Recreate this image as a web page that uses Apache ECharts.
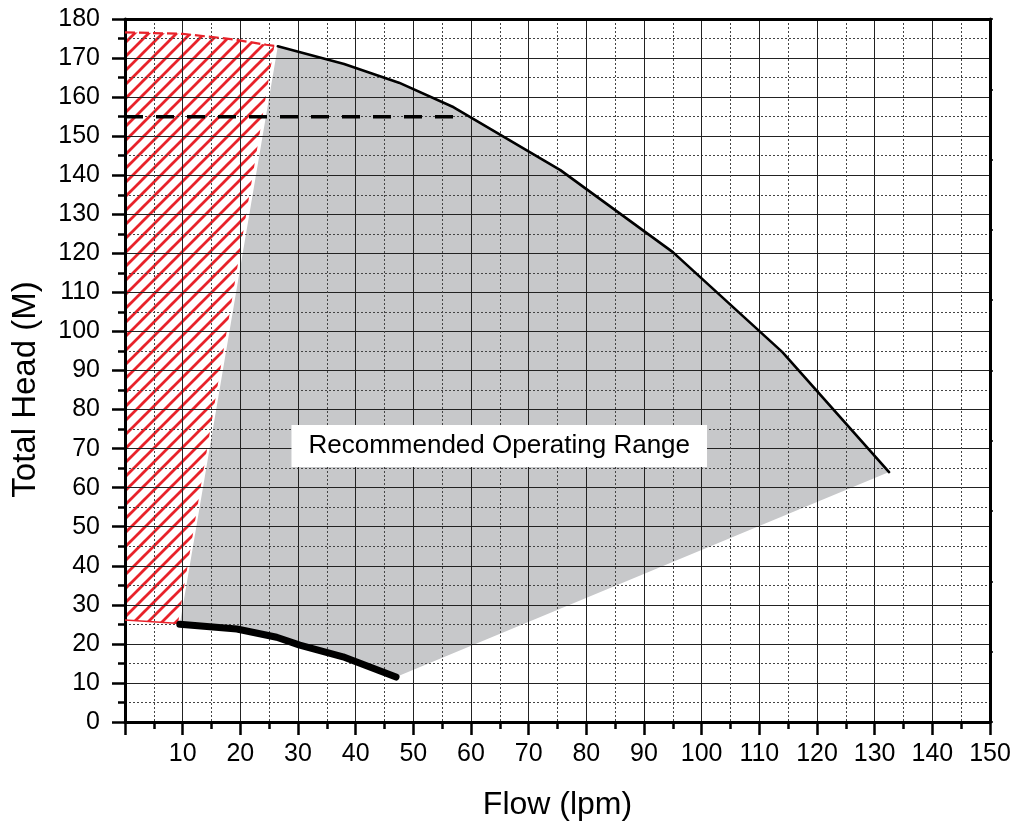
<!DOCTYPE html>
<html>
<head>
<meta charset="utf-8">
<script src="https://cdn.jsdelivr.net/npm/echarts@6/dist/echarts.min.js"></script>
<style>
html,body{margin:0;padding:0;background:#fff;}
#chart{width:1015px;height:826px;}
</style>
</head>
<body>
<div id="chart"></div>
<script>
// ---- data ----
const xTicks = [0,10,20,30,40,50,60,70,80,90,100,110,120,130,140,150];
const yTicks = [0,10,20,30,40,50,60,70,80,90,100,110,120,130,140,150,160,170,180];
// upper (max head) curve
const topCurve = [[26.5,173],[38,168.5],[47.5,163.7],[57,157.4],[75.5,141.3],[95,120.3],[114,94.7],[132.5,64]];
// lower (min head) thick curve
const bottomCurve = [[9.5,25],[19.4,23.8],[26.3,21.7],[30.3,19.7],[37.8,16.7],[47,11.5]];
// red hatched zone boundary
const redTop = [[0,176.6],[10,176.2],[18.7,174.8],[24.5,173.4],[26.5,173]];
const redBottom = [[0,26.1],[9.5,25.2]];
const redRightEdge = [[25.9,173.2],[9.2,25.3]];
// dashed shut-off line
const dashedLine = [[0,155],[57.5,155]];
// label
const labelText = 'Recommended Operating Range';
const labelPos = [[64.9,70.7]];

// gray operating region polygon
const grayPoly = topCurve.concat(bottomCurve.slice().reverse());
// red hatched polygon
const redPoly = redTop.slice(0,redTop.length-1).concat([redRightEdge[0], redRightEdge[1]]).concat(redBottom.slice().reverse());

// hatch pattern
function makeHatch(){
  const s = 14;
  const c = document.createElement('canvas');
  c.width = s; c.height = s;
  const g = c.getContext('2d');
  g.strokeStyle = '#e8222a';
  g.lineWidth = 2.8;
  g.beginPath();
  g.moveTo(-3, s+3); g.lineTo(s+3, -3);
  g.moveTo(-3, 3); g.lineTo(3, -3);
  g.moveTo(s-3, s+3); g.lineTo(s+3, s-3);
  g.stroke();
  return c;
}
const hatch = makeHatch();

function polySeries(points, fill, z){
  return {
    type:'custom', coordinateSystem:'cartesian2d', z:z, silent:true,
    data:[0],
    renderItem:function(params, api){
      const pts = points.map(p=>api.coord(p));
      return {type:'polygon', shape:{points:pts}, style:{fill:fill, stroke:'none'}};
    }
  };
}

const chart = echarts.init(document.getElementById('chart'), null, {renderer:'canvas'});
const FONT = 'Liberation Sans, Arial, Helvetica, sans-serif';
const option = {
  animation:false,
  backgroundColor:'#fff',
  grid:{left:125, right:25, top:19, bottom:104, containLabel:false},
  xAxis:[{
    type:'value', min:0, max:150, interval:10, position:'bottom', z:3,
    name:'Flow (lpm)', nameLocation:'middle', nameGap:67,
    nameTextStyle:{fontFamily:FONT, fontSize:32, color:'#000'},
    axisLine:{show:true, onZero:false, lineStyle:{color:'#000', width:3}},
    axisTick:{show:true, length:13, lineStyle:{color:'#000', width:2.5}},
    minorTick:{show:true, splitNumber:2, length:7, lineStyle:{color:'#000', width:2.5}},
    axisLabel:{fontFamily:FONT, fontSize:25, color:'#000', margin:20,
      formatter:v=> v===0 ? '' : String(v)},
    splitLine:{show:true, lineStyle:{color:'#222', width:1}},
    minorSplitLine:{show:true, lineStyle:{color:'#444', width:1, type:[2,2]}}
  },{
    type:'value', min:0, max:150, interval:10, position:'top', z:3,
    axisLine:{show:true, onZero:false, lineStyle:{color:'#000', width:3}},
    axisTick:{show:false}, axisLabel:{show:false}, splitLine:{show:false}
  }],
  yAxis:[{
    type:'value', min:0, max:180, interval:10, position:'left', z:3,
    name:'Total Head (M)', nameLocation:'middle', nameGap:83,
    nameTextStyle:{fontFamily:FONT, fontSize:33, color:'#000', padding:[0,38,0,0]},
    axisLine:{show:true, onZero:false, lineStyle:{color:'#000', width:3}},
    axisTick:{show:true, length:13, lineStyle:{color:'#000', width:2.5}},
    minorTick:{show:true, splitNumber:2, length:7, lineStyle:{color:'#000', width:2.5}},
    axisLabel:{fontFamily:FONT, fontSize:25, color:'#000', margin:25},
    splitLine:{show:true, lineStyle:{color:'#222', width:1}},
    minorSplitLine:{show:true, lineStyle:{color:'#444', width:1, type:[2,2]}}
  },{
    type:'value', min:0, max:10, interval:1, position:'right', z:3,
    axisLine:{show:true, onZero:false, lineStyle:{color:'#000', width:3}},
    axisTick:{show:true, length:3, lineStyle:{color:'#000', width:1.5}},
    axisLabel:{show:false}, splitLine:{show:false}
  }],
  series:[
    polySeries(redPoly, {image:hatch, repeat:'repeat'}, 1),
    polySeries(grayPoly, '#c7c8ca', 2),
    {type:'line', data:redTop, symbol:'none', z:4, lineStyle:{color:'#e8222a', width:2.2, type:[10,4]}},
    {type:'line', data:redBottom, symbol:'none', z:4, lineStyle:{color:'#e8222a', width:1.5}},
    {type:'line', data:dashedLine, symbol:'none', z:5, lineStyle:{color:'#000', width:3.5, type:[18,13]}},
    {type:'line', data:topCurve, symbol:'none', z:5, lineStyle:{color:'#000', width:2.6, cap:'round', join:'round'}},
    {type:'line', data:bottomCurve, symbol:'none', z:5, lineStyle:{color:'#000', width:7, cap:'round', join:'round'}},
    {type:'scatter', data:labelPos, symbolSize:0, z:6, silent:true, itemStyle:{opacity:1},
      label:{show:true, position:'inside', formatter:labelText, fontFamily:FONT, fontSize:26, color:'#000',
        opacity:1, backgroundColor:'#ffffff', padding:[8,17,8,17]}}
  ]
};
chart.setOption(option);
</script>
</body>
</html>
